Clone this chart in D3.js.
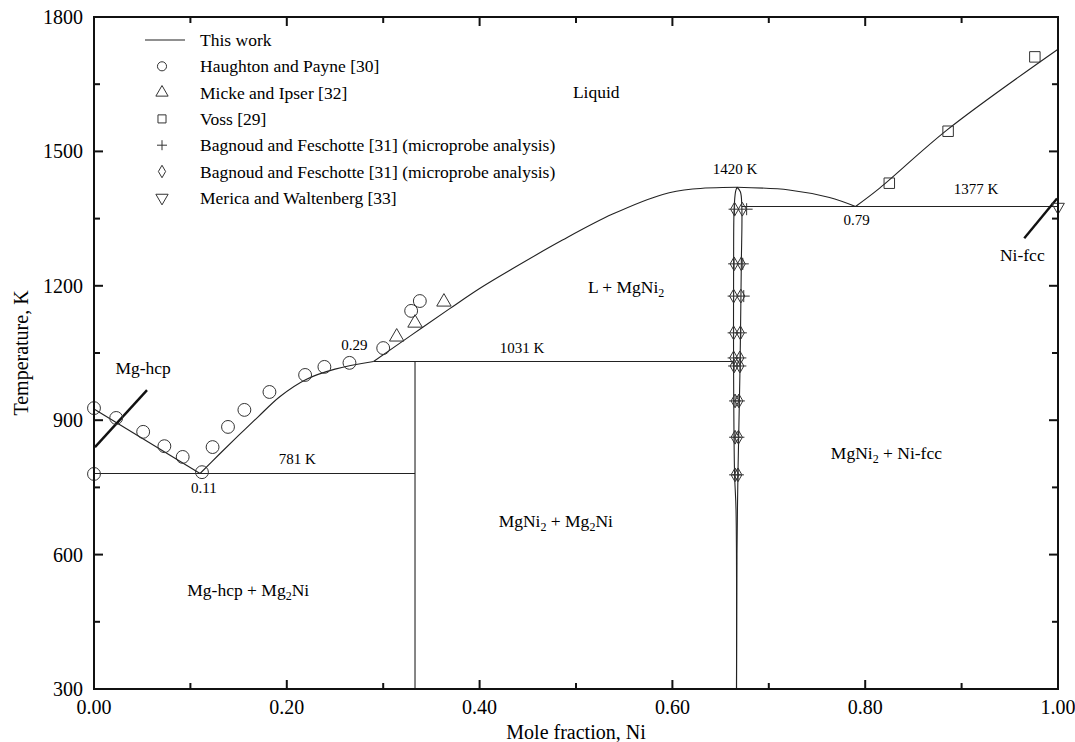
<!DOCTYPE html>
<html lang="en">
<head>
    <meta charset="UTF-8">
    <title>Mg-Ni phase diagram</title>
    <script src="https://d3js.org/d3.v7.min.js"></script>
<style>
    body { margin: 0; background: #fff; }
    svg { font-family: "Liberation Serif", "DejaVu Serif", serif; }
    .phase { fill: none; stroke: #222; stroke-width: 1.1px; }
    .solvus { fill: none; stroke: #111; stroke-width: 2.4px; }
    .mark { fill: none; stroke: #333; stroke-width: 1px; }
    .frame { fill: none; stroke: #111; stroke-width: 2px; }
    .tick { stroke: #111; stroke-width: 2px; }
</style>
</head>
<body>
    <svg id="canvas" width="1075" height="742"></svg>

    <script>
        // ---- data (x = mole fraction Ni, T in K) ----
        var liqMg = [[0, 925], [0.11, 781]];
        var liqMg2Ni = [[0.11, 781], [0.13, 824], [0.15, 866], [0.17, 907], [0.193, 953], [0.22, 991], [0.25, 1014], [0.29, 1031]];
        var liqMgNi2 = [[0.29, 1031], [0.33, 1091], [0.369, 1149], [0.40, 1194], [0.434, 1238], [0.486, 1302], [0.538, 1360], [0.59, 1404], [0.621, 1416], [0.667, 1420]];
        var liqNiSide = [[0.667, 1420], [0.721, 1414], [0.763, 1397], [0.79, 1377]];
        var liqNi = [[0.79, 1377], [0.815, 1418], [0.885, 1548], [1.0, 1728]];

        var mgni2Left = [[0.6665, 300], [0.666, 700], [0.6645, 780], [0.6635, 1000], [0.6635, 1250], [0.664, 1370], [0.6655, 1410], [0.667, 1420]];
        var mgni2Right = [[0.6665, 300], [0.667, 600], [0.668, 780], [0.670, 1000], [0.6715, 1250], [0.672, 1377], [0.6705, 1410], [0.667, 1420]];

        var eutectic1 = [[0, 781], [0.333, 781]];
        var eutectic2 = [[0.29, 1031], [0.6635, 1031]];
        var eutectic3 = [[0.672, 1377], [1.0, 1377]];
        var mg2NiLine = [[0.333, 300], [0.333, 1031]];

        var mgHcp = [[0.001, 840], [0.055, 967]];
        var niFcc = [[0.965, 1306], [0.999, 1395]];

        var haughton = [[0, 927], [0.023, 905], [0.051, 874], [0.073, 842], [0.092, 818], [0.112, 784], [0, 780],
            [0.123, 840], [0.139, 885], [0.156, 923], [0.182, 963], [0.219, 1001], [0.239, 1019], [0.265, 1028],
            [0.300, 1061], [0.329, 1144], [0.338, 1166]];
        var micke = [[0.314, 1086], [0.333, 1117], [0.363, 1164]];
        var voss = [[0.825, 1429], [0.886, 1545], [0.976, 1711]];
        var merica = [[1.0, 1376]];

        var bfRows = [1371, 1249, 1177, 1095, 1039, 1021, 943, 862, 778];
        var bfLeft = [0.6645, 0.664, 0.6635, 0.6635, 0.6635, 0.664, 0.665, 0.665, 0.665];
        var bfRight = [0.6725, 0.6715, 0.671, 0.6705, 0.670, 0.670, 0.669, 0.6685, 0.668];
        var bfPlusRight = [0.677, 0.673, 0.674, 0.671, 0.6705, 0.6705, 0.669, 0.6685, 0.668];

        var xTicks = [0, 0.2, 0.4, 0.6, 0.8, 1.0];
        var xMinor = [0.1, 0.3, 0.5, 0.7, 0.9];
        var yTicks = [300, 600, 900, 1200, 1500, 1800];
        var yMinor = [450, 750, 1050, 1350, 1650];

        var legendItems = [
            {sym: "line", label: "This work"},
            {sym: "circle", label: "Haughton and Payne [30]"},
            {sym: "triangle", label: "Micke and Ipser [32]"},
            {sym: "square", label: "Voss [29]"},
            {sym: "plus", label: "Bagnoud and Feschotte [31] (microprobe analysis)"},
            {sym: "diamond", label: "Bagnoud and Feschotte [31] (microprobe analysis)"},
            {sym: "down", label: "Merica and Waltenberg [33]"}
        ];

        var regionLabels = [
            {x: 0.521, T: 1633, t: "Liquid"},
            {x: 0.552, T: 1197, t: "L + MgNi", sub: "2"},
            {x: 0.822, T: 827, t: "MgNi", sub: "2", rest: " + Ni-fcc"},
            {x: 0.479, T: 675, t: "MgNi", sub: "2", rest: " + Mg", sub2: "2", rest2: "Ni"},
            {x: 0.160, T: 521, t: "Mg-hcp + Mg", sub: "2", rest: "Ni"},
            {x: 0.051, T: 1016, t: "Mg-hcp"},
            {x: 0.963, T: 1269, t: "Ni-fcc"}
        ];
        var numLabels = [
            {x: 0.665, T: 1461, t: "1420 K"},
            {x: 0.915, T: 1416, t: "1377 K"},
            {x: 0.791, T: 1347, t: "0.79"},
            {x: 0.444, T: 1061, t: "1031 K"},
            {x: 0.270, T: 1068, t: "0.29"},
            {x: 0.211, T: 813, t: "781 K"},
            {x: 0.114, T: 749, t: "0.11"}
        ];

        // ---- layout ----
        var svg = d3.select('svg');
        var plotL = 94, plotR = 1058, plotT = 17, plotB = 689;

        var x = d3.scaleLinear().domain([0, 1]).range([plotL, plotR]);
        var y = d3.scaleLinear().domain([300, 1800]).range([plotB, plotT]);

        var line = d3.line()
            .x(function(d) { return x(d[0]); })
            .y(function(d) { return y(d[1]); });
        var smooth = d3.line()
            .x(function(d) { return x(d[0]); })
            .y(function(d) { return y(d[1]); })
            .curve(d3.curveCatmullRom.alpha(0.5));

        // phase boundaries
        [liqMg, eutectic1, eutectic2, eutectic3, mg2NiLine].forEach(function(p) {
            svg.append("path").attr("class", "phase").attr("d", line(p));
        });
        [liqMg2Ni, liqMgNi2, liqNiSide, liqNi, mgni2Left, mgni2Right].forEach(function(p) {
            svg.append("path").attr("class", "phase").attr("d", smooth(p));
        });
        [mgHcp, niFcc].forEach(function(p) {
            svg.append("path").attr("class", "solvus").attr("d", line(p));
        });

        // markers
        var sym = {
            circle: d3.symbol().type(d3.symbolCircle).size(130)(),
            triangle: d3.symbol().type(d3.symbolTriangle).size(90)(),
            square: d3.symbol().type(d3.symbolSquare).size(110)(),
            diamond: d3.symbol().type(d3.symbolDiamond).size(55)(),
            down: d3.symbol().type(d3.symbolTriangle).size(70)(),
            plus: "M-6,0H6M0,-6V6"
        };

        function drawMarks(data, key, rot) {
            svg.append("g").selectAll("path")
                .data(data)
                .enter()
                .append("path")
                .attr("class", "mark")
                .attr("d", sym[key])
                .attr("transform", function(d) {
                    return "translate(" + x(d[0]) + "," + y(d[1]) + ")" + (rot ? " rotate(180)" : "");
                });
        }

        var bfDiamonds = [], bfPluses = [];
        bfRows.forEach(function(T, i) {
            bfDiamonds.push([bfLeft[i], T]);
            bfDiamonds.push([bfRight[i], T]);
            bfPluses.push([bfLeft[i], T]);
            bfPluses.push([bfPlusRight[i], T]);
        });

        drawMarks(haughton, "circle");
        drawMarks(micke, "triangle");
        drawMarks(voss, "square");
        drawMarks(merica, "down", true);
        drawMarks(bfDiamonds, "diamond");
        drawMarks(bfPluses, "plus");

        // frame + ticks (inward, all four sides)
        svg.append("rect").attr("class", "frame")
            .attr("x", plotL).attr("y", plotT)
            .attr("width", plotR - plotL).attr("height", plotB - plotT);

        function ticksX(vals, len) {
            vals.forEach(function(v) {
                svg.append("line").attr("class", "tick")
                    .attr("x1", x(v)).attr("x2", x(v)).attr("y1", plotB).attr("y2", plotB - len);
                svg.append("line").attr("class", "tick")
                    .attr("x1", x(v)).attr("x2", x(v)).attr("y1", plotT).attr("y2", plotT + len);
            });
        }
        function ticksY(vals, len) {
            vals.forEach(function(v) {
                svg.append("line").attr("class", "tick")
                    .attr("x1", plotL).attr("x2", plotL + len).attr("y1", y(v)).attr("y2", y(v));
                svg.append("line").attr("class", "tick")
                    .attr("x1", plotR).attr("x2", plotR - len).attr("y1", y(v)).attr("y2", y(v));
            });
        }
        ticksX(xTicks, 9); ticksX(xMinor, 6);
        ticksY(yTicks, 9); ticksY(yMinor, 6);

        svg.append("g").selectAll("text")
            .data(xTicks).enter().append("text")
            .attr("x", function(d) { return x(d); })
            .attr("y", plotB + 25)
            .attr("text-anchor", "middle")
            .style("font-size", "20px")
            .text(function(d) { return d3.format(".2f")(d); });

        svg.append("g").selectAll("text")
            .data(yTicks).enter().append("text")
            .attr("x", plotL - 11)
            .attr("y", function(d) { return y(d) + 7; })
            .attr("text-anchor", "end")
            .style("font-size", "20px")
            .text(function(d) { return d; });

        svg.append("text")
            .attr("x", (plotL + plotR) / 2).attr("y", 739)
            .attr("text-anchor", "middle").style("font-size", "20px")
            .text("Mole fraction, Ni");
        svg.append("text")
            .attr("transform", "translate(28," + ((plotT + plotB) / 2) + ") rotate(-90)")
            .attr("text-anchor", "middle").style("font-size", "20px")
            .text("Temperature, K");

        // annotations
        regionLabels.forEach(function(d) {
            var t = svg.append("text")
                .attr("x", x(d.x)).attr("y", y(d.T) + 6)
                .attr("text-anchor", "middle")
                .style("font-size", "17.5px");
            t.append("tspan").text(d.t);
            if (d.sub) {
                t.append("tspan").attr("dy", 4).style("font-size", "12px").text(d.sub);
                if (d.rest) t.append("tspan").attr("dy", -4).text(d.rest);
                if (d.sub2) {
                    t.append("tspan").attr("dy", 4).style("font-size", "12px").text(d.sub2);
                    t.append("tspan").attr("dy", -4).text(d.rest2);
                }
            }
        });
        numLabels.forEach(function(d) {
            svg.append("text")
                .attr("x", x(d.x)).attr("y", y(d.T) + 5)
                .attr("text-anchor", "middle")
                .style("font-size", "15px")
                .text(d.t);
        });

        // legend
        var legend = svg.append("g");
        legendItems.forEach(function(d, i) {
            var ly = 40 + i * 26.3;
            if (d.sym === "line") {
                legend.append("line").attr("class", "phase")
                    .attr("x1", 145).attr("x2", 185).attr("y1", ly).attr("y2", ly);
            } else {
                legend.append("path").attr("class", "mark")
                    .attr("d", d.sym === "plus" ? "M-5,0H5M0,-5V5" : d3.symbol()
                        .type({circle: d3.symbolCircle, triangle: d3.symbolTriangle, square: d3.symbolSquare,
                               diamond: d3.symbolDiamond, down: d3.symbolTriangle}[d.sym])
                        .size(d.sym === "diamond" ? 45 : 65)())
                    .attr("transform", "translate(162," + ly + ")" + (d.sym === "down" ? " rotate(180)" : ""));
            }
            legend.append("text")
                .attr("x", 200).attr("y", ly + 6)
                .style("font-size", "17.5px")
                .text(d.label);
        });
    </script>
</body>
</html>
